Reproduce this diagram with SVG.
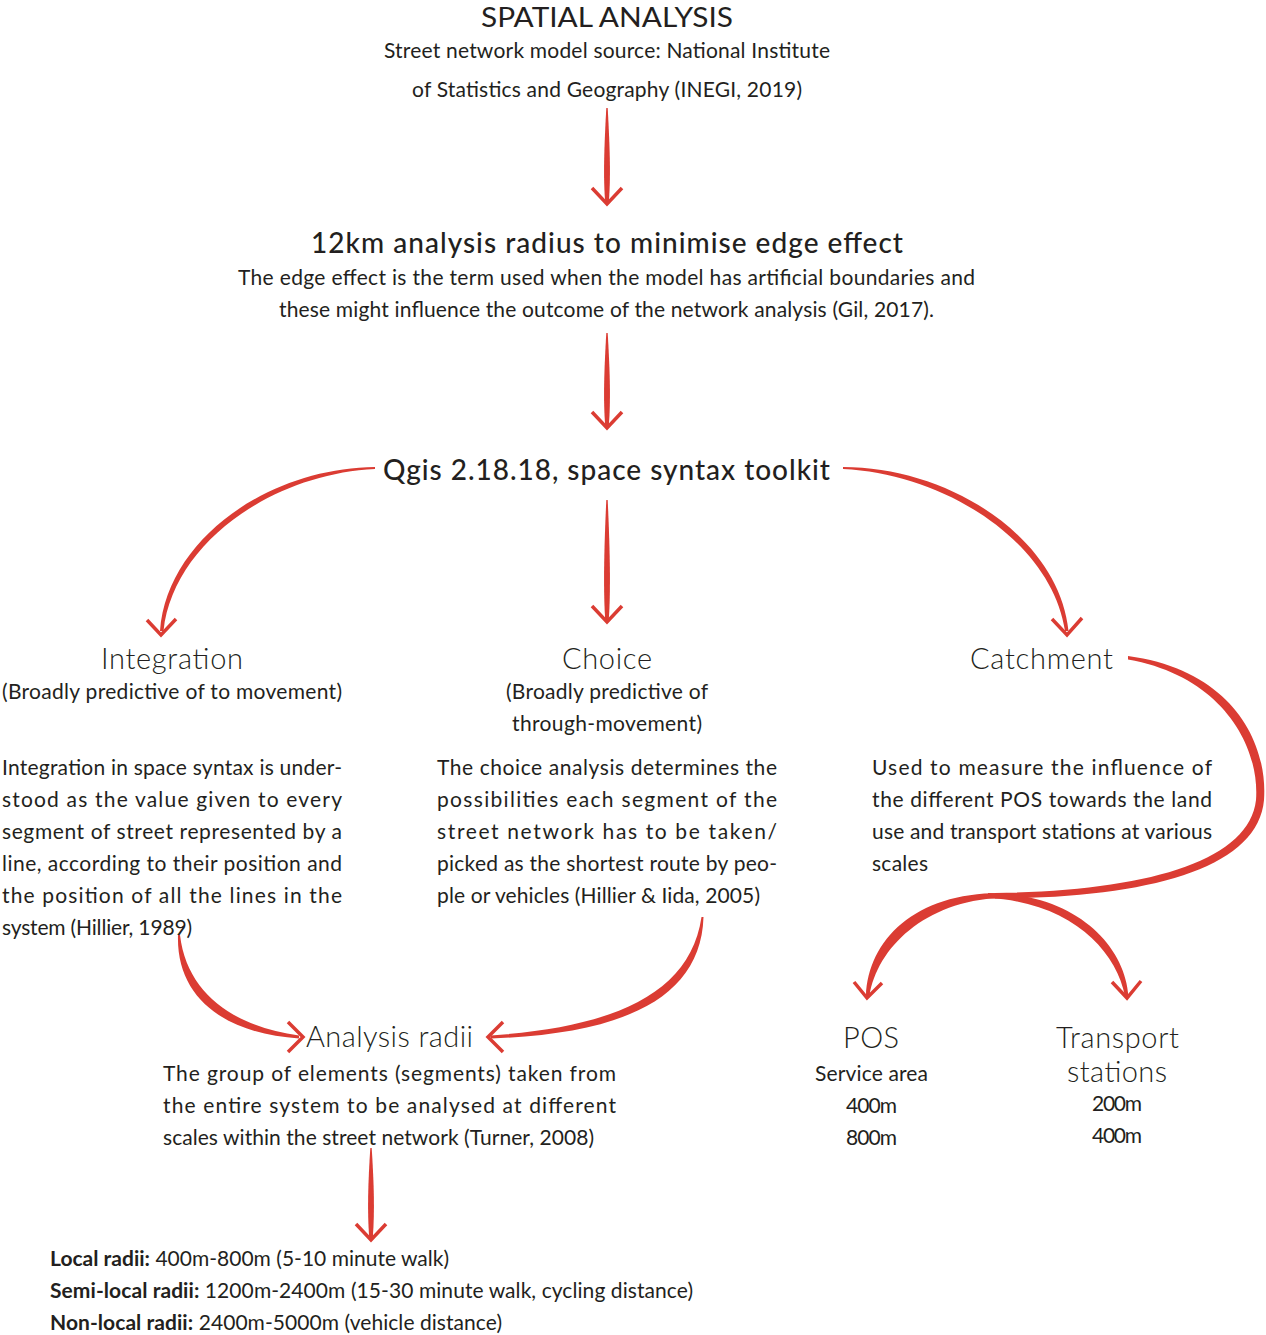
<svg xmlns="http://www.w3.org/2000/svg" width="1266" height="1335" viewBox="0 0 1266 1335">
  <style>
    text { font-family: Lato, "Liberation Sans", sans-serif; fill: #231f20; }
    .title { font-size: 27px; }
    .body { font-size: 21px; }
    .head { font-size: 28px; font-weight: 500; }
    .big { font-size: 29px; font-weight: 300; }
    .list { font-size: 21px; }
    .b { font-weight: 700; }
    .shaft { fill: #db3c33; stroke: none; }
    .head-mark { fill: none; stroke: #db3c33; stroke-width: 3.5; stroke-linecap: butt; stroke-linejoin: miter; }
  </style>
  <rect width="1266" height="1335" fill="#ffffff"/>

  <!-- connectors: tapered brush strokes with open chevron heads -->
  <g id="connectors">
    <!-- source -> edge effect -->
    <path class="shaft" d="M606.3,108 L607.7,108 C610,150 610.8,178 608.8,202 L605.2,202 C603.2,178 604,150 606.3,108 Z"/>
    <polyline class="head-mark" points="592,188 607,204 622,188"/>
    <!-- edge effect -> toolkit -->
    <path class="shaft" d="M606.3,333 L607.7,333 C610,373 610.8,400 608.8,426 L605.2,426 C603.2,400 604,373 606.3,333 Z"/>
    <polyline class="head-mark" points="592,412 607,428 622,412"/>
    <!-- toolkit -> choice -->
    <path class="shaft" d="M606.3,500 L607.7,500 C610,550 610.8,590 608.8,620 L605.2,620 C603.2,590 604,550 606.3,500 Z"/>
    <polyline class="head-mark" points="592,606 607,622 622,606"/>
    <!-- toolkit -> integration -->
    <path class="shaft" d="M375,467 C270,468 167,538 160,631 L163.5,631 C173,543 272,474 375,469 Z"/>
    <polyline class="head-mark" points="147,620 161,635 176,619"/>
    <!-- toolkit -> catchment -->
    <path class="shaft" d="M843,467 C950,467 1059,538 1068.5,631 L1065,631 C1052,544 948,474 843,469 Z"/>
    <polyline class="head-mark" points="1052,619 1067,635 1082,618"/>
    <!-- catchment loop down to the split -->
    <path class="shaft" d="M1128,656 C1232,670 1268,742 1264,800 C1258,868 1150,898 995,898.5 L995,893 C1145,891 1249,862 1256,800 C1260,746 1222,676 1128,659.5 Z"/>
    <!-- split -> POS -->
    <path class="shaft" d="M1000,893 C915,893 868,940 866,996 L869.5,996 C877,948 925,901 1000,898 Z"/>
    <polyline class="head-mark" points="854,982 867,998 882,983"/>
    <!-- split -> transport stations -->
    <path class="shaft" d="M988,893 C1075,893 1125,945 1128.5,996 L1125,996 C1116,950 1070,902 988,898 Z"/>
    <polyline class="head-mark" points="1112,982 1127,998 1141,981"/>
    <!-- integration -> analysis radii -->
    <path class="shaft" d="M178,935 C176,1000 228,1034 299,1038.5 L299,1035.5 C236,1027 187,995 180,935 Z"/>
    <polyline class="head-mark" points="288,1022 303,1037 288,1052"/>
    <!-- choice -> analysis radii -->
    <path class="shaft" d="M703.5,917 C701,1000 620,1034 491,1038.5 L491,1035.5 C612,1027 690,995 701.5,917 Z"/>
    <polyline class="head-mark" points="503,1022 488,1037 503,1052"/>
    <!-- analysis radii -> radii list -->
    <path class="shaft" d="M370.3,1148 L371.7,1148 C374,1185 374.8,1210 372.8,1238 L369.2,1238 C367.2,1210 368,1185 370.3,1148 Z"/>
    <polyline class="head-mark" points="356,1224 371,1240 386,1224"/>
  </g>

  <g id="spatial-analysis">
    <text class="title" x="481" y="27" textLength="252" lengthAdjust="spacingAndGlyphs">SPATIAL ANALYSIS</text>
    <text class="body" x="384" y="58" textLength="446" lengthAdjust="spacing">Street network model source: National Institute</text>
    <text class="body" x="412" y="97" textLength="390" lengthAdjust="spacing">of Statistics and Geography (INEGI, 2019)</text>
  </g>

  <g id="edge-effect">
    <text class="head" x="311" y="253" textLength="592" lengthAdjust="spacing">12km analysis radius to minimise edge effect</text>
    <text class="body" x="238" y="285" textLength="737" lengthAdjust="spacing">The edge effect is the term used when the model has artificial boundaries and</text>
    <text class="body" x="279" y="317" textLength="655" lengthAdjust="spacing">these might influence the outcome of the network analysis (Gil, 2017).</text>
  </g>

  <g id="toolkit">
    <text class="head" x="383" y="480" textLength="447" lengthAdjust="spacing">Qgis 2.18.18, space syntax toolkit</text>
  </g>

  <g id="integration">
    <text class="big" x="101" y="669" textLength="142" lengthAdjust="spacing">Integration</text>
    <text class="body" x="2" y="699" textLength="340" lengthAdjust="spacing">(Broadly predictive of to movement)</text>
    <text class="body" x="2" y="775" textLength="340" lengthAdjust="spacing">Integration in space syntax is under-</text>
    <text class="body" x="2" y="807" textLength="340" lengthAdjust="spacing">stood as the value given to every</text>
    <text class="body" x="2" y="839" textLength="340" lengthAdjust="spacing">segment of street represented by a</text>
    <text class="body" x="2" y="871" textLength="340" lengthAdjust="spacing">line, according to their position and</text>
    <text class="body" x="2" y="903" textLength="340" lengthAdjust="spacing">the position of all the lines in the</text>
    <text class="body" x="2" y="935" textLength="190" lengthAdjust="spacing">system (Hillier, 1989)</text>
  </g>

  <g id="choice">
    <text class="big" x="562" y="669" textLength="90" lengthAdjust="spacing">Choice</text>
    <text class="body" x="506" y="699" textLength="202" lengthAdjust="spacing">(Broadly predictive of</text>
    <text class="body" x="512" y="731" textLength="190" lengthAdjust="spacing">through-movement)</text>
    <text class="body" x="437" y="775" textLength="340" lengthAdjust="spacing">The choice analysis determines the</text>
    <text class="body" x="437" y="807" textLength="340" lengthAdjust="spacing">possibilities each segment of the</text>
    <text class="body" x="437" y="839" textLength="340" lengthAdjust="spacing">street network has to be taken/</text>
    <text class="body" x="437" y="871" textLength="340" lengthAdjust="spacing">picked as the shortest route by peo-</text>
    <text class="body" x="437" y="903" textLength="323" lengthAdjust="spacing">ple or vehicles (Hillier &amp; Iida, 2005)</text>
  </g>

  <g id="catchment">
    <text class="big" x="970" y="669" textLength="143" lengthAdjust="spacing">Catchment</text>
    <text class="body" x="872" y="775" textLength="340" lengthAdjust="spacing">Used to measure the influence of</text>
    <text class="body" x="872" y="807" textLength="340" lengthAdjust="spacing">the different POS towards the land</text>
    <text class="body" x="872" y="839" textLength="340" lengthAdjust="spacing">use and transport stations at various</text>
    <text class="body" x="872" y="871" textLength="56" lengthAdjust="spacing">scales</text>
  </g>

  <g id="analysis-radii">
    <text class="big" x="306" y="1047" textLength="167" lengthAdjust="spacing">Analysis radii</text>
    <text class="body" x="163" y="1081" textLength="453" lengthAdjust="spacing">The group of elements (segments) taken from</text>
    <text class="body" x="163" y="1113" textLength="453" lengthAdjust="spacing">the entire system to be analysed at different</text>
    <text class="body" x="163" y="1145" textLength="431" lengthAdjust="spacing">scales within the street network  (Turner, 2008)</text>
  </g>

  <g id="radii-list">
    <text class="list" x="50" y="1266" textLength="399" lengthAdjust="spacing"><tspan class="b">Local radii:</tspan> 400m-800m (5-10 minute walk)</text>
    <text class="list" x="50" y="1298" textLength="643" lengthAdjust="spacing"><tspan class="b">Semi-local radii:</tspan> 1200m-2400m (15-30 minute walk, cycling distance)</text>
    <text class="list" x="50" y="1330" textLength="452" lengthAdjust="spacing"><tspan class="b">Non-local radii:</tspan> 2400m-5000m (vehicle distance)</text>
  </g>

  <g id="pos">
    <text class="big" x="843" y="1048" textLength="56" lengthAdjust="spacing">POS</text>
    <text class="body" x="815" y="1081" textLength="113" lengthAdjust="spacing">Service area</text>
    <text class="body" x="846" y="1113" textLength="51" lengthAdjust="spacing">400m</text>
    <text class="body" x="846" y="1145" textLength="51" lengthAdjust="spacing">800m</text>
  </g>

  <g id="transport-stations">
    <text class="big" x="1056" y="1048" textLength="123" lengthAdjust="spacing">Transport</text>
    <text class="big" x="1067" y="1082" textLength="100" lengthAdjust="spacing">stations</text>
    <text class="body" x="1092" y="1111" textLength="50" lengthAdjust="spacing">200m</text>
    <text class="body" x="1092" y="1143" textLength="50" lengthAdjust="spacing">400m</text>
  </g>
</svg>
